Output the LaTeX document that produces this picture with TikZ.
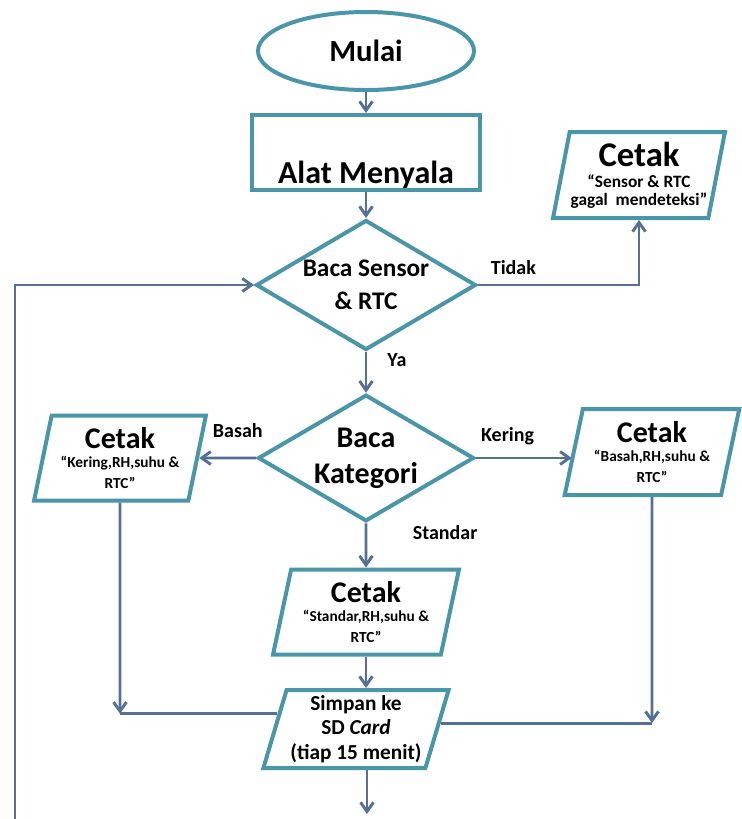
\documentclass[tikz,border=0pt]{standalone}
\usepackage{fontspec}
\setmainfont{Carlito}
\usepackage{tikz}
\usetikzlibrary{arrows.meta,shapes.geometric}

\definecolor{tepi}{RGB}{72,150,168}
\definecolor{alur}{RGB}{84,112,148}

\begin{document}
\begin{tikzpicture}[x=0.75pt, y=-0.75pt,
  bentuk/.style={draw=tepi, line width=3pt, fill=white, align=center},
  terminal/.style={bentuk, ellipse, minimum width=162pt, minimum height=58.5pt},
  proses/.style={bentuk, rectangle, inner sep=0pt, minimum width=171pt},
  keputusan/.style={bentuk, diamond, shape aspect=1.7, inner sep=0pt},
  cetak/.style={bentuk, trapezium, trapezium left angle=76, trapezium right angle=104,
    trapezium stretches=true, inner sep=0pt},
  panah/.style={draw=alur, line width=2.2pt, -{Straight Barb[length=2.4mm,width=3.4mm]}},
  garis/.style={draw=alur, line width=2.2pt},
  ket/.style={font=\bfseries\fontsize{15}{18}\selectfont, inner sep=0pt}]

\useasboundingbox (0,0) rectangle (742,819);

\path (366,51) node (mulai) [terminal, font=\bfseries\fontsize{23}{27}\selectfont] {Mulai};
\path (366,152.5) node (alat) [proses, text height=51pt, text depth=5.25pt,
  font=\bfseries\fontsize{24}{28}\selectfont] {Alat Menyala};
\path (366,285) node (sensor) [keputusan, minimum width=165pt, minimum height=97.5pt,
  font=\bfseries\fontsize{19}{24.5}\selectfont] {Baca Sensor\\\& RTC};
\path (639,175) node (cetakGagal) [cetak, minimum width=129pt, minimum height=64.5pt,
  font=\bfseries\fontsize{13}{13.5}\selectfont]
  {{\fontsize{26}{30}\selectfont Cetak}\\[2pt]“Sensor \& RTC\\gagal~~mendeteksi”};
\path (366,458) node (kategori) [keputusan, minimum width=162pt, minimum height=95pt,
  font=\bfseries\fontsize{22.5}{27}\selectfont] {Baca\\Kategori};
\path (120,458) node (cetakKering) [cetak, minimum width=129pt, minimum height=63.75pt,
  font=\bfseries\fontsize{11.5}{15.5}\selectfont]
  {{\fontsize{22.5}{26}\selectfont Cetak}\\[-1pt]“Kering,RH,suhu \&\\RTC”};
\path (652,452) node (cetakBasah) [cetak, minimum width=131pt, minimum height=64.5pt,
  font=\bfseries\fontsize{11.5}{15.5}\selectfont]
  {{\fontsize{22.5}{26}\selectfont Cetak}\\[-1pt]“Basah,RH,suhu \&\\RTC”};
\path (366,612) node (cetakStandar) [cetak, minimum width=139.5pt, minimum height=63.75pt,
  font=\bfseries\fontsize{11.5}{15.5}\selectfont]
  {{\fontsize{22.5}{26}\selectfont Cetak}\\[-1pt]“Standar,RH,suhu \&\\RTC”};
\path (356,729) node (simpan) [cetak, trapezium left angle=72, trapezium right angle=108,
  minimum width=139pt, minimum height=58.5pt,
  font=\bfseries\fontsize{16}{18.4}\selectfont] {Simpan ke\\SD \textit{Card}\\(tiap 15 menit)};

\coordinate (awalLoop) at (15,819);
\coordinate (sudutKiri) at (cetakKering.south |- simpan.169);
\coordinate (sudutKanan) at (cetakBasah.south |- simpan.4);
\coordinate (akhir) at (367,814);

\draw[panah] (mulai) -- (alat);
\draw[panah] (alat) -- (sensor);
\draw[panah] (sensor.east) -| (cetakGagal.south) node[pos=0.11, above=7pt, ket] {Tidak};
\draw[panah] (sensor) -- (kategori) node[pos=0.2, right=15pt, ket] {Ya};
\draw[panah] (kategori) -- (cetakKering) node[pos=0.32, above=14pt, ket] {Basah};
\draw[panah] (kategori.east) -- (kategori.east -| cetakBasah.west) node[pos=0.33, above=9pt, ket] {Kering};
\draw[panah] (kategori) -- (cetakStandar) node[pos=0.2, right=34pt, ket] {Standar};
\draw[panah] (cetakStandar.south) -- (cetakStandar.south |- simpan.north);
\draw[panah] (cetakKering) -- (sudutKiri);
\draw[garis] (sudutKiri) -- (simpan.169);
\draw[panah] (cetakBasah) -- (sudutKanan);
\draw[garis] (sudutKanan) -- (simpan.4);
\draw[panah] (akhir |- simpan.south) -- (akhir);
\draw[panah] (awalLoop) |- (sensor.west);
\end{tikzpicture}
\end{document}
